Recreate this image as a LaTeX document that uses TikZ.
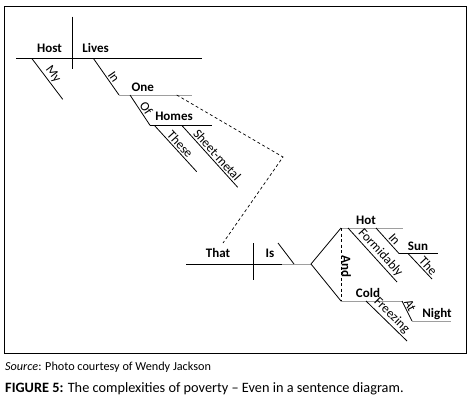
\documentclass[tikz,border=0pt]{standalone}
\usepackage{fontspec}
\setmainfont{Carlito}
\usetikzlibrary{positioning}

\tikzset{
  word/.style={anchor=base, inner sep=0pt, font=\bfseries\fontsize{13}{15}\selectfont},
  mod/.style={midway, sloped, above, inner sep=1.5pt, font=\fontsize{13}{15}\selectfont},
  base/.style={line width=0.8pt},
  greyline/.style={line width=0.8pt, draw=black!38},
  link/.style={line width=0.7pt, dash pattern=on 3pt off 2.5pt},
  frame/.style={line width=0.9pt}
}

\begin{document}
\begin{tikzpicture}[x=1pt,y=-1pt]
  \useasboundingbox (0,0) rectangle (472,407);
  \draw[frame] (4,6) rectangle (466,353);

  % My host lives in one of these sheet-metal homes
  \coordinate (s0) at (16,58.3);
  \coordinate (s1) at (202,58.3);
  \coordinate (d0) at (72.7,16.7);
  \coordinate (d1) at (72.7,69);
  \draw[base] (s0) -- (s1);
  \draw[base] (d0) -- (d1);
  \node[word] (host) at (49.5,52.3) {Host};
  \node[word] (lives) at (95.7,52.3) {Lives};

  \coordinate (my0) at (31.7,58.3);
  \coordinate (my1) at (62.7,99.3);
  \draw[base] (my0) -- (my1) node[mod] (my) {My};

  \coordinate (in0) at (93.3,58.3);
  \coordinate (in1) at (119,95);
  \coordinate (one1) at (192.3,95);
  \draw[base] (in0) -- (in1) node[mod, pos=0.6] (in) {In};
  \draw[greyline] (in1) -- (one1);
  \node[word] (one) at (142.7,91.5) {One};

  \coordinate (of0) at (130,95);
  \coordinate (of1) at (150,125.3);
  \coordinate (homes1) at (212.3,125.3);
  \draw[base] (of0) -- (of1) node[mod, pos=0.55] (of) {Of};
  \draw[base] (of1) -- (homes1);
  \node[word] (homes) at (174,120.5) {Homes};

  \coordinate (these0) at (154.3,125.3);
  \coordinate (these1) at (196.7,171.7);
  \draw[base] (these0) -- (these1) node[mod] (these) {These};
  \coordinate (sheet0) at (181.7,125.3);
  \coordinate (sheet1) at (237.7,187.3);
  \draw[base] (sheet0) -- (sheet1) node[mod, pos=0.55] (sheet) {Sheet-metal};

  % relative clause link
  \coordinate (r0) at (176.7,95);
  \coordinate (r1) at (283,157);
  \coordinate (r2) at (223,243);
  \draw[link] (r0) -- (r1) -- (r2);

  % That is formidably hot in the sun and freezing cold at night
  \coordinate (t0) at (186,264);
  \coordinate (t1) at (282,264);
  \coordinate (fork) at (311,264);
  \coordinate (v0) at (253,243);
  \coordinate (v1) at (253,280);
  \draw[base] (t0) -- (t1);
  \draw[greyline] (t1) -- (fork);
  \draw[base] (v0) -- (v1);
  \node[word] (that) at (218,257.5) {That};
  \node[word] (is) at (270,257.5) {Is};
  \coordinate (c0) at (278,243);
  \coordinate (c1) at (294,264);
  \draw[base] (c0) -- (c1);

  \coordinate (hot0) at (341,228);
  \coordinate (hot1) at (403,228);
  \coordinate (cold0) at (341,301);
  \coordinate (cold1) at (403,301);
  \draw[base] (fork) -- (hot0);
  \draw[base] (fork) -- (cold0);
  \draw[greyline] (hot0) -- (hot1);
  \draw[greyline] (cold0) -- (cold1);
  \draw[link] (hot0) -- (cold0);
  \node[rotate=-90, inner sep=0pt, font=\bfseries\fontsize{13}{15}\selectfont] (and) at (346.5,266.5) {And};
  \node[word] (hot) at (366,224.5) {Hot};
  \node[word] (cold) at (368,297) {Cold};

  \coordinate (form0) at (348,228);
  \coordinate (form1) at (397,282);
  \draw[base] (form0) -- (form1) node[mod, pos=0.55] (form) {Formidably};

  \coordinate (in2) at (376,228);
  \coordinate (in3) at (399,253.5);
  \coordinate (sun1) at (438,253.5);
  \draw[base] (in2) -- (in3) node[mod, pos=0.6] (inb) {In};
  \draw[base] (in3) -- (sun1);
  \node[word] (sun) at (418,250) {Sun};
  \coordinate (the0) at (408,253.5);
  \coordinate (the1) at (432,279);
  \draw[base] (the0) -- (the1) node[mod, pos=0.65] (the) {The};

  \coordinate (at0) at (402,301);
  \coordinate (at1) at (412,321);
  \coordinate (night1) at (451,321);
  \draw[base] (at0) -- (at1) node[mod, pos=0.35, inner sep=0.5pt] (at) {At};
  \draw[greyline] (at1) -- (night1);
  \node[word] (night) at (437,317) {Night};

  \coordinate (fr0) at (366,301);
  \coordinate (fr1) at (407,341);
  \draw[base] (fr0) -- (fr1) node[mod] (freezing) {Freezing};

  % caption
  \node[anchor=base west, inner sep=0pt, font=\fontsize{12.2}{14}\selectfont] (source) at (5,370.5)
    {\textit{Source}: Photo courtesy of Wendy Jackson};
  \node[anchor=base west, inner sep=0pt, font=\fontsize{14.3}{16}\selectfont] (caption) at (5,392)
    {\textbf{FIGURE 5:} The complexities of poverty -- Even in a sentence diagram.};
\end{tikzpicture}
\end{document}
